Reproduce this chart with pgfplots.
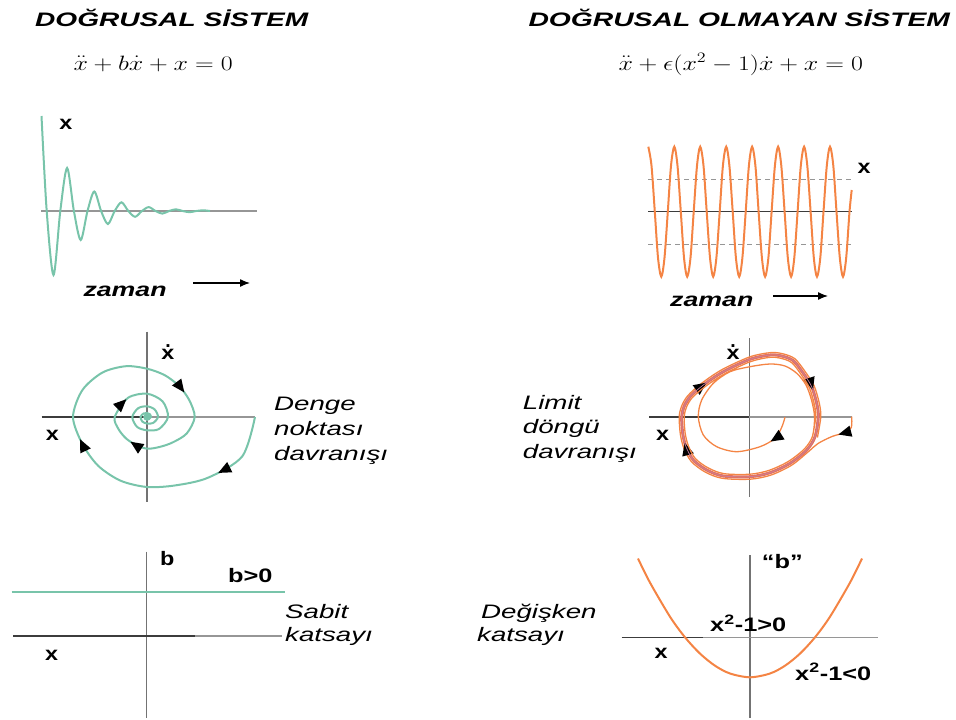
\documentclass[border=0pt]{standalone}
\usepackage{pgfplots}
\pgfplotsset{compat=1.18}
\usepackage{fontspec}
\setmainfont{Liberation Sans}
\usetikzlibrary{decorations.markings,arrows.meta}

\definecolor{tealc}{RGB}{120,196,170}
\definecolor{orng}{RGB}{244,132,68}
\definecolor{cyc}{RGB}{228,114,92}
\definecolor{mauve}{RGB}{196,126,160}
\definecolor{axg}{RGB}{150,150,150}
\definecolor{axm}{RGB}{115,115,115}
\definecolor{axd}{RGB}{60,60,60}

\newcommand{\sx}[2][1.42]{\scalebox{#1}[1]{#2}}

\tikzset{
  lab/.style={anchor=base west, inner sep=0pt, font=\fontsize{19.5}{23}\selectfont},
  lbl/.style={anchor=center, inner sep=0pt, font=\fontsize{19.5}{23}\selectfont\bfseries},
  arr/.style={postaction={decorate, decoration={markings,
    mark=at position #1 with {\arrow{Triangle[length=13pt,width=11pt,color=black]}}}}},
}

\begin{document}
\begin{tikzpicture}
\begin{axis}[at={(0,0)}, anchor=south west, scale only axis,
  width=956pt, height=720pt, xmin=0, xmax=956, ymin=0, ymax=720,
  y dir=reverse, hide axis, clip=false]

% --- linear system, time response
\addplot[axg, line width=1.5pt] coordinates {(41,211) (257,211)};
\addplot[tealc, line width=2pt, smooth] coordinates {
 (41.5,116) (46.7,211) (53.5,275) (60.3,211) (67.1,168) (73.9,211) (80.7,240)
 (87.5,211) (94.3,191.5) (101.1,211) (107.9,224) (114.7,211) (121.5,202.3)
 (128.3,211) (135.1,216.8) (141.9,211) (148.7,207.1) (155.5,211) (162.3,213.6)
 (169.1,211) (175.9,209.3) (182.7,211) (189.5,212.2) (196.3,211) (203.1,210.3) (210,211)};
\addplot[black, line width=1.3pt, -{Latex[length=10pt,width=8pt]}] coordinates {(193,283) (250,283)};

% --- nonlinear system, time response
\addplot[axg, line width=1.3pt, dash pattern=on 5pt off 4pt] coordinates {(648,179.3) (852,179.3)};
\addplot[axg, line width=1.3pt, dash pattern=on 5pt off 4pt] coordinates {(648,244.3) (852,244.3)};
\addplot[axd, line width=1.5pt] coordinates {(648,211.7) (852,211.7)};
\addplot[orng, line width=2pt, smooth] coordinates {
 (648.3,146.7) (651.5,165.7) (654.8,211.7) (658.0,257.7) (661.3,276.7) (664.5,257.7)
 (667.8,211.7) (671.0,165.7) (674.3,146.7) (677.5,165.7) (680.8,211.7) (684.0,257.7)
 (687.2,276.7) (690.5,257.7) (693.7,211.7) (697.0,165.7) (700.2,146.7) (703.5,165.7)
 (706.7,211.7) (710.0,257.7) (713.2,276.7) (716.4,257.7) (719.7,211.7) (722.9,165.7)
 (726.2,146.7) (729.4,165.7) (732.7,211.7) (735.9,257.7) (739.2,276.7) (742.4,257.7)
 (745.7,211.7) (748.9,165.7) (752.1,146.7) (755.4,165.7) (758.6,211.7) (761.9,257.7)
 (765.1,276.7) (768.4,257.7) (771.6,211.7) (774.9,165.7) (778.1,146.7) (781.3,165.7)
 (784.6,211.7) (787.8,257.7) (791.1,276.7) (794.3,257.7) (797.6,211.7) (800.8,165.7)
 (804.1,146.7) (807.3,165.7) (810.6,211.7) (813.8,257.7) (817.0,276.7) (820.3,257.7)
 (823.5,211.7) (826.8,165.7) (830.0,146.7) (833.3,165.7) (836.5,211.7) (839.8,257.7)
 (843.0,276.7) (846.2,257.7) (849.5,211.7) (851.7,190)};
\addplot[black, line width=1.3pt, -{Latex[length=10pt,width=8pt]}] coordinates {(773,296) (828,296)};

% --- linear system, phase plane
\addplot[axm, line width=1.5pt] coordinates {(147,331.7) (147,501.7)};
\addplot[axd, line width=1.5pt] coordinates {(41.7,417) (147,417)};
\addplot[axg, line width=1.5pt] coordinates {(147,417) (255,417)};
\addplot[tealc, line width=2pt, smooth, arr=71pt, arr=231pt, arr=401pt, arr=508pt, arr=560pt] coordinates {
 (255,417) (242.2,456.4) (207.8,477.8) (175.3,485.4) (147,487) (120.6,480.7)
 (98.2,465.8) (82.3,443.8) (73,417) (82.3,390.2) (102.5,372.5) (126,366.2)
 (147,368.7) (164.4,375) (178.5,385.5) (189,399.6) (194.7,417) (186.7,433.5)
 (172.5,442.5) (159.4,447) (147,448.7) (135.5,444.7) (125.8,438.2) (118.4,428.9)
 (114.7,417) (127.9,397.9) (147,393.7) (162.6,401.4) (168,417) (159.0,429.0)
 (147,430.3) (137.1,426.9) (132.3,417) (138.2,408.2) (147,406.3) (154.6,409.4)
 (158,417) (153.0,423.0) (147,423.5) (142.4,421.6) (140.5,417) (143.5,413.5)
 (147,413) (149.8,414.2) (151,417) (148.9,419.1) (147,419.5) (145.6,418.4) (145,417)};
\addplot[tealc, only marks, mark=*, mark size=3.5pt] coordinates {(147,417)};

% --- nonlinear system, phase plane
\addplot[axm, line width=1.5pt] coordinates {(749.3,338) (749.3,496.7)};
\addplot[axd, line width=1.5pt] coordinates {(649,417) (749.3,417)};
\addplot[axg, line width=1.5pt] coordinates {(749.3,417) (851.7,417)};
\addplot[orng, line width=1.3pt, smooth, arr=26pt] coordinates {
 (851.7,416.7) (851.3,427.5) (845,432.5) (832,436.5) (818,443.5) (808.8,451.3)
 (791.6,465.2) (770.8,475.1) (750,479.2) (722.3,478.3) (705.1,472) (691.3,461.5)
 (683.7,447.8) (680.3,433.9) (679.2,416.7) (681.5,406.35) (687.6,395.9) (701.2,383.6)
 (722,369.6) (750,356.8) (770.8,352.6) (782.9,353.8) (794.8,358.7) (805.2,371.7)
 (814,385.6) (819.2,402.8) (820.8,416.7) (817.4,437.5)};
\addplot[cyc, line width=3pt, smooth, arr=44pt, arr=174pt, arr=382pt] coordinates {
 (681.7,416.7) (684,406.7) (690,396.7) (703.3,385) (723.3,371.7) (750,359.3)
 (770,355) (781.7,356) (793.3,360.7) (803.3,373.3) (811.7,386.7) (816.7,403.3)
 (818.3,416.7) (815,436.7) (806.7,450) (790,463.3) (770,472.7) (750,476.7)
 (723.3,476) (706.7,470) (693.3,460) (686,446.7) (682.7,433.3) (681.7,416.7)
 (684,406.7) (690,396.7)};
\addplot[mauve, line width=0.7pt, smooth] coordinates {
 (681.7,416.7) (684,406.7) (690,396.7) (703.3,385) (723.3,371.7) (750,359.3)
 (770,355) (781.7,356) (793.3,360.7) (803.3,373.3) (811.7,386.7) (816.7,403.3)
 (818.3,416.7) (815,436.7) (806.7,450) (790,463.3) (770,472.7) (750,476.7)
 (723.3,476) (706.7,470) (693.3,460) (686,446.7) (682.7,433.3) (681.7,416.7)
 (684,406.7) (690,396.7)};
\addplot[orng, line width=1.3pt, smooth, arr=29pt] coordinates {
 (785,417.3) (781.7,427.3) (775,438.3) (760,446.7) (736.7,451.7) (716.7,446.7)
 (703.3,435) (698.3,416.7) (701.7,400) (713.3,383.3) (730,371.7) (750,366.7)
 (770,364) (785,366) (797,373.5) (806,385) (811.5,400) (814.5,416.7) (812.6,435.9)
 (804.6,448.7) (788.4,461.4) (769.2,470.3) (750,474.2) (724.3,473.7) (708.3,468)
 (695.3,458.5) (688.3,445.6) (685.1,432.7) (684.2,416.7) (686.5,407.05) (692.4,397.5)
 (705.4,386.4) (724.6,373.8) (750,361.8) (769.2,357.4) (780.5,358.2) (791.8,362.7)
 (801.4,374.9) (809.4,387.8) (814.2,403.8) (815.8,416.7) (812.6,435.9)};

% --- linear system, coefficient
\addplot[axm, line width=1.5pt] coordinates {(146.7,551.7) (146.7,718.3)};
\addplot[tealc, line width=2pt] coordinates {(11.7,592.3) (285,592.3)};
\addplot[axd, line width=1.5pt] coordinates {(13.3,636) (195,636)};
\addplot[axg, line width=1.5pt] coordinates {(195,636) (281.7,636)};

% --- nonlinear system, coefficient
\addplot[axm, line width=1.5pt] coordinates {(750,555) (750,718.3)};
\addplot[axd, line width=1.5pt] coordinates {(621.7,637.3) (703.3,637.3)};
\addplot[axg, line width=1.5pt] coordinates {(703.3,637.3) (878.3,637.3)};
\addplot[orng, line width=2pt, smooth] coordinates {
 (638,558.5) (650,582.6) (670,616.7) (685,637.3) (700,653.6) (715,665.7) (730,673.5)
 (750,677.3) (770,673.5) (785,665.7) (800,653.6) (815,637.3) (830,616.7) (850,582.6) (862,558.5)};

% --- texts
\node[lab] at (axis cs:35,26.5) {\sx[1.44]{\bfseries\itshape DOĞRUSAL SİSTEM}};
\node[lab] at (axis cs:528.3,26.5) {\sx[1.45]{\bfseries\itshape DOĞRUSAL OLMAYAN SİSTEM}};
\node[lab, font=\fontsize{22.5}{25}\selectfont] at (axis cs:73.3,70) {\sx[1.25]{$\ddot{x}+b\dot{x}+x=0$}};
\node[lab, font=\fontsize{22.5}{25}\selectfont] at (axis cs:618.3,70) {\sx[1.25]{$\ddot{x}+\epsilon(x^2-1)\dot{x}+x=0$}};

\node[lbl] at (axis cs:65.8,124.7) {\sx[1.2]{x}};
\node[lbl] at (axis cs:864,168) {\sx[1.2]{x}};
\node[lbl] at (axis cs:52.5,435) {\sx[1.2]{x}};
\node[lbl] at (axis cs:662.5,435) {\sx[1.2]{x}};
\node[lbl] at (axis cs:51.7,655) {\sx[1.2]{x}};
\node[lbl] at (axis cs:661,653) {\sx[1.2]{x}};
\node[lbl] at (axis cs:168,354.5) {\sx[1.2]{x}};
\node[lbl, anchor=base] at (axis cs:168,347.5) {.};
\node[lbl] at (axis cs:733,354.5) {\sx[1.2]{x}};
\node[lbl, anchor=base] at (axis cs:733,347.5) {.};

\node[lab] at (axis cs:83.3,296.5) {\sx[1.37]{\bfseries\itshape zaman}};
\node[lab] at (axis cs:670,306.5) {\sx[1.37]{\bfseries\itshape zaman}};

\node[lab] at (axis cs:274,410) {\sx{\itshape Denge}};
\node[lab] at (axis cs:274,435) {\sx{\itshape noktası}};
\node[lab] at (axis cs:274,460) {\sx{\itshape davranışı}};

\node[lab] at (axis cs:522.7,409.3) {\sx{\itshape Limit}};
\node[lab] at (axis cs:522.7,433.8) {\sx{\itshape döngü}};
\node[lab] at (axis cs:522.7,458.3) {\sx{\itshape davranışı}};

\node[lab] at (axis cs:160,565) {\sx[1.2]{\bfseries b}};
\node[lab] at (axis cs:228,582) {\sx[1.3]{\bfseries b>0}};
\node[lab] at (axis cs:285,618.3) {\sx{\itshape Sabit}};
\node[lab] at (axis cs:285,641.7) {\sx{\itshape katsayı}};

\node[lab] at (axis cs:481,618.5) {\sx{\itshape Değişken}};
\node[lab] at (axis cs:477,641.7) {\sx{\itshape katsayı}};
\node[lab] at (axis cs:761.7,568) {\sx[1.3]{\bfseries “b”}};
\node[lab] at (axis cs:710,631.7) {\sx[1.3]{\bfseries x\textsuperscript{2}-1>0}};
\node[lab] at (axis cs:795,680) {\sx[1.3]{\bfseries x\textsuperscript{2}-1<0}};
\end{axis}
\pgfresetboundingbox
\path[use as bounding box] (0,0) rectangle (956pt,720pt);
\end{tikzpicture}
\end{document}
